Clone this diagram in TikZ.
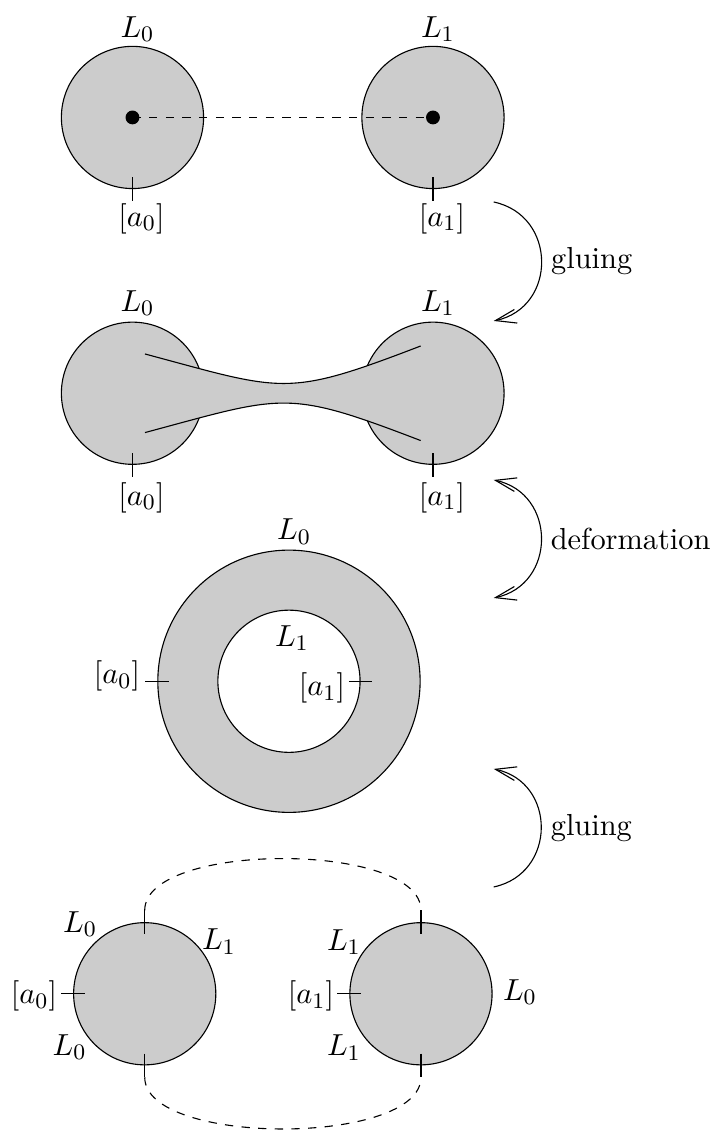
\documentclass[tikz,border=0pt]{standalone}
\usetikzlibrary{arrows.meta}

\begin{document}
\begin{tikzpicture}[>={Straight Barb[length=7.5pt,width=5pt]},
  font=\fontsize{10.95}{13.6}\selectfont,
  disk/.style={circle,draw,fill=black!20,minimum size=1.8cm,inner sep=0pt},
  hole/.style={circle,draw,fill=white,minimum size=1.8cm,inner sep=0pt},
  move/.style={out=-12,in=12,looseness=1.4}]

 \useasboundingbox (0,0) rectangle (9,-14.33);

 \node[disk] (t0) at (1.677,-1.487) {};
 \node[disk] (t1) at (5.481,-1.487) {};
 \draw[dashed] (t0.center) -- (t1.center);
 \fill (t0.center) circle (2.5pt);
 \fill (t1.center) circle (2.5pt);
 \draw ([yshift=1.5mm]t0.south) -- ([yshift=-1.5mm]t0.south);
 \draw ([yshift=1.5mm]t1.south) -- ([yshift=-1.5mm]t1.south);
 \node (lt0) at (1.74,-0.37) {$L_0$};
 \node (lt1) at (5.544,-0.37) {$L_1$};
 \node (at0) at (1.79,-2.77) {$[a_0]$};
 \node (at1) at (5.595,-2.77) {$[a_1]$};

 \node[disk] (m0) at (1.677,-4.978) {};
 \node[disk] (m1) at (5.481,-4.978) {};
 \coordinate (n1) at (1.835,-4.481);
 \coordinate (n2) at (5.325,-4.380);
 \coordinate (n3) at (1.835,-5.476);
 \coordinate (n4) at (5.325,-5.577);
 \fill[black!20] (n1) to[out=-15,in=201,looseness=1.34] (n2) -- (n4)
    to[out=159,in=15,looseness=1.34] (n3) -- cycle;
 \draw (n1) to[out=-15,in=201,looseness=1.34] (n2);
 \draw (n3) to[out=15,in=159,looseness=1.34] (n4);
 \draw ([yshift=1.5mm]m0.south) -- ([yshift=-1.5mm]m0.south);
 \draw ([yshift=1.5mm]m1.south) -- ([yshift=-1.5mm]m1.south);
 \node (lm0) at (1.74,-3.835) {$L_0$};
 \node (lm1) at (5.544,-3.835) {$L_1$};
 \node (am0) at (1.79,-6.3) {$[a_0]$};
 \node (am1) at (5.595,-6.3) {$[a_1]$};

 \node[disk,minimum size=3.32cm] (ann) at (3.658,-8.624) {};
 \node[hole] (hl) at (ann) {};
 \draw ([xshift=-1.5mm]ann.west) -- ([xshift=1.5mm]ann.west);
 \draw ([xshift=-1.5mm]hl.east) -- ([xshift=1.5mm]hl.east);
 \node (la0) at (3.722,-6.73) {$L_0$};
 \node (la1) at (3.696,-8.076) {$L_1$};
 \node (aa0) at (1.481,-8.557) {$[a_0]$};
 \node (aa1) at (4.076,-8.709) {$[a_1]$};

 \node[disk] (b0) at (1.832,-12.58) {};
 \node[disk] (b1) at (5.329,-12.58) {};
 \draw ([yshift=1.5mm]b0.north) -- ([yshift=-1.5mm]b0.north);
 \draw ([yshift=1.5mm]b0.south) -- ([yshift=-1.5mm]b0.south);
 \draw ([xshift=-1.5mm]b0.west) -- ([xshift=1.5mm]b0.west);
 \draw ([yshift=1.5mm]b1.north) -- ([yshift=-1.5mm]b1.north);
 \draw ([yshift=1.5mm]b1.south) -- ([yshift=-1.5mm]b1.south);
 \draw ([xshift=-1.5mm]b1.west) -- ([xshift=1.5mm]b1.west);
 \draw[dashed] ([yshift=1.5mm]b0.north) to[out=90,in=90,looseness=0.64] ([yshift=1.5mm]b1.north);
 \draw[dashed] ([yshift=-1.5mm]b0.south) to[out=-90,in=-90,looseness=0.64] ([yshift=-1.5mm]b1.south);
 \node (lb0) at (1.013,-11.696) {$L_0$};
 \node (lb1) at (2.772,-11.918) {$L_1$};
 \node (ab0) at (0.43,-12.608) {$[a_0]$};
 \node (lb2) at (0.88,-13.253) {$L_0$};
 \node (lc1) at (4.354,-11.924) {$L_1$};
 \node (lc0) at (6.582,-12.557) {$L_0$};
 \node (lc2) at (4.354,-13.259) {$L_1$};
 \node (ac1) at (3.937,-12.608) {$[a_1]$};

 \coordinate (g1s) at (6.25,-2.557);
 \coordinate (g1e) at (6.25,-4.063);
 \coordinate (d1s) at (6.25,-6.076);
 \coordinate (d1e) at (6.25,-7.57);
 \coordinate (g2s) at (6.25,-11.228);
 \coordinate (g2e) at (6.25,-9.734);

 \path
    (g1s) edge [->,move] node[right] (glue1) {gluing} (g1e)
    (d1s) edge [<->,move] node[right] (defo) {deformation} (d1e)
    (g2s) edge [->,out=12,in=-12,looseness=1.4] node[right] (glue2) {gluing} (g2e);

\end{tikzpicture}
\end{document}
